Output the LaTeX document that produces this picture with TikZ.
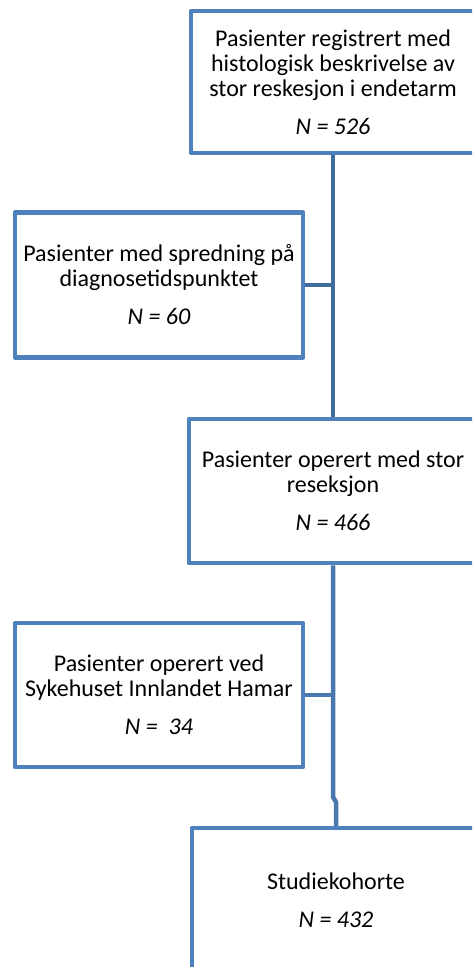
\documentclass[tikz,border=0pt]{standalone}
\usepackage{fontspec}
\setmainfont{Carlito}
\usepackage{xcolor}
\definecolor{boxblue}{HTML}{4F81BD}
\definecolor{lineblue}{HTML}{3F6B9E}
\usetikzlibrary{positioning}

\tikzset{
  box/.style={draw=boxblue, line width=4.5pt, line join=round, fill=white,
    align=center, font=\fontsize{24}{25}\selectfont, inner sep=0pt},
  link/.style={draw=lineblue, line width=4.5pt},
  lowlink/.style={draw=boxblue!92!black, line width=4.5pt, line join=round},
}

\begin{document}
\begin{tikzpicture}[x=1pt, y=-1pt]
      \useasboundingbox (0,0) rectangle (472,967);
      \clip (0,0) rectangle (472,967);
      \node[box, minimum width=284pt, minimum height=142pt] (A) at (333,82)
        {Pasienter registrert med\\histologisk beskrivelse av\\stor reskesjon i endetarm\\[13pt]\textit{N = 526}};
      \node[box, minimum width=288pt, minimum height=145pt] (B) at (159,285)
        {Pasienter med spredning på\\diagnosetidspunktet\\[13pt]\textit{N = 60}};
      \node[box, minimum width=288pt, minimum height=144pt] (C) at (333,491)
        {Pasienter operert med stor\\reseksjon\\[13pt]\textit{N = 466}};
      \node[box, minimum width=288pt, minimum height=144pt] (D) at (159,695)
        {Pasienter operert ved\\Sykehuset Innlandet Hamar\\[13pt]\textit{N =\ \ 34}};
      \node[box, minimum width=288pt, minimum height=144pt] (E) at (336,900)
        {Studiekohorte\\[13pt]\textit{N = 432}};
        % trunk
      \coordinate (j1) at (333,797);
      \coordinate (j2) at (336,802);
      \draw[link] (A.south) -- (C.north);
      \draw[link] (B.east) -- (B.east -| A.south);
      \draw[lowlink] (C.south) -- (j1) -- (j2) -- (E.north);
      \draw[lowlink] (D.east) -- (D.east -| C.south);
    \end{tikzpicture}
\end{document}
